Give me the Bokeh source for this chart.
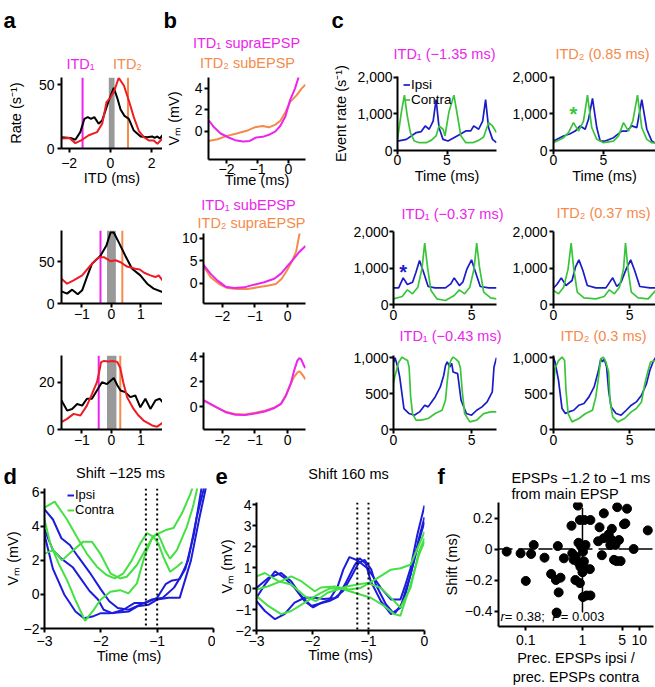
from bokeh.plotting import figure
from bokeh.layouts import row, column
from bokeh.models import (Label, Span, BoxAnnotation, FixedTicker, Legend, LegendItem,
                          CustomJSTickFormatter)
from bokeh.embed import file_html
from bokeh.resources import INLINE

FONT = "Liberation Sans"
MAGENTA = "#EC24EC"
ORANGE = "#F58A4B"
RED = "#EE1D23"
BLACK = "#000000"
GRAY = "#999999"
BLUE = "#1B1BC8"
GREEN = "#3AC43A"
BLUE_D = "#1C1CDC"
GREEN_D = "#44E044"

# ---------------- panel a : ITD tuning (rate vs ITD) ----------------
a1_black_x = [-2.38, -1.94, -1.7, -1.46, -1.26, -1.1, -0.94, -0.78, -0.57, -0.4, -0.24, -0.08, 0.16, 0.32, 0.49, 0.68, 0.89, 1.13, 1.46, 1.78, 2.02, 2.14, 2.27, 2.39, 2.52]
a1_black_y = [8.8, 8.3, 6.8, 12.8, 23.2, 24.5, 23.2, 24.5, 19.3, 22, 29.7, 37.5, 47.4, 40, 30.5, 25.5, 23.2, 14, 9.4, 8.8, 9.4, 8.3, 9.4, 7.8, 10.4]
a1_red_x = [-2.38, -1.99, -1.7, -1.37, -1.05, -0.65, -0.4, -0.19, 0.0, 0.19, 0.4, 0.65, 0.89, 1.13, 1.38, 1.62, 1.86, 2.1, 2.27, 2.52]
a1_red_y = [7.8, 8.3, 4.2, 6.8, 10.4, 12.8, 19.3, 36.2, 39.8, 45.3, 55.2, 49.2, 37.5, 24.5, 13.5, 8.8, 6.3, 6.3, 3.6, 7.8]

a2_black_x = [-1.69, -1.5, -1.33, -1.14, -0.99, -0.83, -0.66, -0.37, -0.17, -0.03, 0.08, 0.25, 0.47, 0.7, 0.98, 1.21, 1.43, 1.73]
a2_black_y = [14.5, 11.8, 16.5, 11, 15.7, 31.5, 47.3, 57, 69, 84.6, 84.6, 72.8, 57, 41.4, 33.5, 23.6, 17.7, 13.7]
a2_red_x = [-1.69, -1.5, -1.28, -0.99, -0.71, -0.43, -0.24, -0.03, 0.14, 0.31, 0.53, 0.81, 0.96, 1.11, 1.32, 1.49, 1.6, 1.73]
a2_red_y = [29.5, 23.6, 27.5, 33.5, 45.3, 55, 55, 50.4, 51.6, 49.2, 44, 41.4, 40.6, 36.6, 33.5, 31.5, 33.5, 27.5]

a3_black_x = [-1.69, -1.5, -1.33, -1.16, -0.99, -0.83, -0.66, -0.49, -0.32, -0.15, 0.08, 0.2, 0.31, 0.47, 0.64, 0.81, 0.98, 1.15, 1.32, 1.49, 1.64, 1.73]
a3_black_y = [12.3, 8, 8.7, 10.8, 10.1, 13, 13, 16.5, 20, 19.2, 21.8, 18.7, 16.5, 15.8, 13.7, 14.4, 9.4, 13, 8.7, 12.3, 13, 11.6]
a3_red_x = [-1.69, -1.5, -1.28, -1.05, -0.83, -0.66, -0.49, -0.42, -0.35, -0.25, -0.1, 0.05, 0.2, 0.3, 0.4, 0.53, 0.75, 0.92, 1.09, 1.38, 1.55, 1.73]
a3_red_y = [3.1, 4.5, 6.6, 5.9, 10.1, 15, 20, 24, 28.5, 29, 28.8, 29, 28.6, 26, 20, 13.7, 8.7, 5.9, 3.8, 1.7, 1.2, 2.8]

a_itd1 = [-1.35, -0.37, -0.43]
a_itd2 = [0.85, 0.37, 0.3]
a_band_left = [-0.08, -0.15, -0.15]
a_band_right = [0.2, 0.15, 0.17]

# ---------------- panel b : average Vm ----------------
b1_mag_x = [-2.58, -2.4, -2.19, -1.93, -1.72, -1.46, -1.25, -1.04, -0.83, -0.63, -0.42, -0.26, -0.1, 0.05, 0.21, 0.33]
b1_mag_y = [1.05, 0.38, -0.19, -0.56, -0.81, -0.94, -0.88, -0.56, -0.5, -0.31, 0.0, 0.53, 1.38, 2.88, 3.97, 5.06]
b1_ora_x = [-2.58, -2.29, -1.98, -1.67, -1.35, -1.09, -0.83, -0.63, -0.42, -0.26, -0.1, 0.05, 0.26, 0.42, 0.55]
b1_ora_y = [-0.88, -0.72, -0.41, -0.19, 0.06, 0.38, 0.5, 0.38, 0.63, 1.0, 1.78, 2.72, 3.34, 3.97, 4.34]

b2_mag_x = [-2.58, -2.36, -2.15, -1.9, -1.64, -1.33, -1.03, -0.72, -0.41, -0.21, -0.05, 0.15, 0.36, 0.55]
b2_mag_y = [4.1, 2.1, 0.6, -0.75, -1.05, -0.9, -0.3, 0.23, 1.0, 2.1, 3.46, 5.1, 7.0, 8.3]
b2_ora_x = [-2.58, -2.36, -2.1, -1.85, -1.54, -1.23, -0.92, -0.62, -0.36, -0.18, -0.02, 0.12, 0.26, 0.39]
b2_ora_y = [3.8, 1.35, -0.15, -1.05, -1.28, -1.28, -0.9, -0.53, -0.15, 1.0, 2.86, 4.7, 7.0, 11.9]

b3_x = [-2.58, -2.2, -1.9, -1.6, -1.3, -1.0, -0.7, -0.4, -0.2, -0.05, 0.1, 0.2, 0.3, 0.36, 0.42, 0.5, 0.55]
b3_mag_y = [0.55, 0.0, -0.42, -0.62, -0.64, -0.52, -0.36, -0.08, 0.25, 0.9, 1.9, 2.9, 3.7, 3.9, 3.8, 3.3, 3.1]
b3_ora_y = [0.5, -0.02, -0.38, -0.57, -0.6, -0.47, -0.3, -0.03, 0.27, 0.95, 1.85, 2.4, 2.75, 2.85, 2.7, 2.4, 2.2]

# ---------------- panel c : event rates ipsi / contra ----------------
c1L_ipsi_x = [0, 0.9, 1.9, 2.4, 2.8, 3.2, 3.6, 3.9, 4.2, 4.6, 5.1, 5.6, 6.2, 6.9, 7.4, 7.7, 8.2, 8.6, 8.9, 9.2, 9.6, 10.0]
c1L_ipsi_y = [258, 304, 490, 517, 671, 580, 802, 1390, 620, 304, 258, 335, 425, 535, 535, 671, 580, 802, 1390, 620, 304, 213]
c1L_con_x = [0, 0.4, 0.7, 0.97, 1.3, 1.7, 2.2, 2.9, 3.4, 3.9, 4.2, 4.6, 4.8, 5.2, 5.7, 6.1, 6.4, 6.9, 7.6, 8.2, 8.7, 9.2, 9.6, 10.0]
c1L_con_y = [304, 1060, 1510, 975, 490, 258, 213, 213, 276, 400, 670, 580, 400, 1060, 1510, 880, 400, 213, 213, 276, 370, 760, 670, 490]

c1R_ipsi_x = [0, 1.0, 1.67, 2.17, 2.67, 3.17, 3.5, 3.9, 4.33, 4.67, 5.17, 6.0, 6.83, 7.33, 7.83, 8.33, 8.83, 9.33, 9.83, 10.2]
c1R_ipsi_y = [258, 394, 458, 530, 671, 580, 852, 1420, 620, 258, 258, 350, 530, 530, 671, 625, 1390, 580, 258, 200]
c1R_con_x = [0, 1.0, 1.5, 2.0, 2.5, 3.0, 3.4, 3.83, 4.33, 5.0, 6.0, 6.5, 7.0, 7.5, 7.93, 8.4, 8.83, 9.33, 9.83, 10.2]
c1R_con_y = [213, 350, 490, 760, 530, 800, 1510, 620, 304, 213, 258, 400, 760, 530, 800, 1510, 620, 304, 213, 200]

c2L_ipsi_x = [0, 0.33, 0.62, 0.89, 1.22, 1.44, 1.67, 1.89, 2.22, 2.67, 3.33, 3.67, 3.89, 4.22, 4.44, 4.71, 5.0, 5.22, 5.56, 6.11, 6.6]
c2L_ipsi_y = [456, 456, 730, 548, 612, 886, 1205, 931, 493, 456, 456, 566, 730, 520, 612, 977, 1223, 931, 493, 456, 456]
c2L_con_x = [0, 0.56, 0.89, 1.22, 1.56, 1.82, 2.0, 2.18, 2.4, 2.78, 3.33, 3.89, 4.22, 4.56, 4.89, 5.16, 5.33, 5.51, 5.78, 6.22, 6.6]
c2L_con_y = [155, 219, 402, 292, 475, 977, 1680, 1022, 383, 155, 110, 246, 402, 292, 475, 977, 1680, 1022, 338, 183, 155]

c2R_ipsi_x = [0, 0.22, 0.51, 0.82, 1.22, 1.44, 1.67, 1.93, 2.22, 2.78, 3.44, 3.89, 4.16, 4.44, 4.78, 5.07, 5.33, 5.67, 6.33, 6.7]
c2R_ipsi_y = [456, 548, 730, 520, 657, 1022, 1223, 931, 520, 456, 456, 730, 493, 612, 977, 1223, 931, 493, 456, 456]
c2R_con_x = [0, 0.33, 0.67, 0.96, 1.16, 1.33, 1.56, 2.0, 2.78, 3.33, 3.67, 4.0, 4.33, 4.6, 4.73, 4.89, 5.11, 5.56, 6.22, 6.7]
c2R_con_y = [383, 292, 475, 977, 1680, 977, 338, 183, 155, 219, 402, 292, 475, 977, 1680, 977, 338, 183, 155, 383]

c3L_ipsi_x = [0, 0.1, 0.27, 0.4, 0.67, 1.0, 1.33, 1.67, 2.0, 2.22, 2.44, 2.67, 3.0, 3.22, 3.33, 3.44, 3.6, 3.73, 3.82, 4.11, 4.33, 4.67, 5.0, 5.33, 5.67, 6.0, 6.33, 6.44, 6.6]
c3L_ipsi_y = [937, 1000, 870, 730, 292, 222, 199, 245, 338, 315, 384, 454, 593, 755, 890, 940, 870, 920, 800, 778, 407, 222, 199, 268, 315, 384, 523, 870, 1000]
c3L_con_x = [0, 0.1, 0.33, 0.55, 0.7, 0.9, 1.0, 1.1, 1.22, 1.44, 1.78, 2.22, 2.67, 3.11, 3.33, 3.45, 3.55, 3.67, 3.82, 4.0, 4.18, 4.29, 4.4, 4.56, 4.89, 5.33, 5.78, 6.22, 6.6]
c3L_con_y = [650, 750, 937, 1008, 985, 960, 870, 454, 222, 130, 130, 153, 222, 268, 407, 685, 870, 960, 1008, 980, 940, 850, 546, 222, 106, 130, 222, 245, 245]

c3R_ipsi_x = [0, 0.1, 0.33, 0.56, 0.78, 1.0, 1.33, 1.67, 2.0, 2.33, 2.67, 2.96, 3.11, 3.22, 3.33, 3.49, 3.62, 3.78, 4.11, 4.44, 4.78, 5.11, 5.44, 5.78, 6.11, 6.33, 6.56, 6.7]
c3R_ipsi_y = [1000, 940, 685, 292, 222, 245, 268, 338, 361, 454, 593, 824, 985, 940, 985, 870, 546, 315, 222, 199, 268, 338, 384, 477, 639, 824, 950, 1000]
c3R_con_x = [0, 0.1, 0.33, 0.56, 0.73, 0.82, 0.96, 1.22, 1.67, 2.11, 2.56, 2.78, 2.96, 3.11, 3.27, 3.44, 3.62, 3.71, 3.89, 4.22, 4.67, 5.11, 5.44, 5.78, 6.0, 6.22, 6.38, 6.7]
c3R_con_y = [600, 850, 960, 1008, 960, 546, 222, 106, 153, 222, 268, 454, 731, 985, 1008, 940, 800, 407, 176, 106, 153, 245, 292, 384, 639, 824, 940, 960]

# ---------------- panel d : shift -125 ms ----------------
d_ipsi = [
    ([-3, -2.85, -2.7, -2.55, -2.4, -2.2, -2.0, -1.85, -1.7, -1.5, -1.3, -1.1, -0.9, -0.7, -0.5, -0.35, -0.2],
     [5.0, 4.4, 3.3, 2.9, 2.2, 1.3, 0.3, -0.4, -0.8, -0.9, -0.6, -0.3, -0.2, 0.4, 1.5, 3.5, 6.5]),
    ([-3, -2.85, -2.7, -2.5, -2.35, -2.2, -2.05, -1.95, -1.8, -1.6, -1.4, -1.2, -1.0, -0.85, -0.75, -0.6, -0.45, -0.3, -0.15],
     [3.8, 2.6, 2.1, 1.6, 0.9, 0.2, -0.3, -0.9, -1.1, -0.9, -0.5, -0.5, -0.2, 0.6, 0.8, 0.9, 2.0, 4.5, 6.5]),
    ([-3, -2.85, -2.65, -2.45, -2.3, -2.15, -2.0, -1.85, -1.65, -1.5, -1.35, -1.15, -1.0, -0.8, -0.6, -0.4, -0.25, -0.12],
     [3.5, 1.5, 0.0, -1.0, -1.4, -1.3, -1.1, -1.1, -1.05, -1.0, -0.7, -0.6, -0.3, -0.2, -0.2, 2.0, 4.5, 6.5]),
]
d_contra = [
    ([-3, -2.82, -2.6, -2.43, -2.25, -2.07, -1.9, -1.75, -1.6, -1.45, -1.3, -1.18, -1.07, -0.98, -0.89, -0.77, -0.65, -0.55],
     [5.1, 5.45, 4.4, 3.4, 2.4, 1.63, 1.14, 0.94, 1.24, 2.0, 3.0, 3.6, 3.4, 3.0, 2.2, 1.33, 1.63, 1.9]),
    ([-3, -2.84, -2.69, -2.49, -2.31, -2.16, -2.01, -1.83, -1.66, -1.54, -1.36, -1.18, -1.07, -0.96, -0.83, -0.71, -0.56, -0.41, -0.35],
     [2.4, 2.6, 2.0, 2.6, 3.1, 3.1, 2.4, 1.24, 0.94, 1.04, 1.73, 2.8, 3.4, 3.6, 3.8, 3.9, 4.76, 5.9, 6.5]),
    ([-3, -2.9, -2.75, -2.6, -2.45, -2.34, -2.28, -2.13, -2.01, -1.83, -1.66, -1.51, -1.36, -1.21, -1.09, -1.0, -0.95, -0.86, -0.77, -0.65, -0.47, -0.36, -0.27],
     [4.4, 3.0, 1.82, 0.84, -0.33, -1.12, -1.55, -0.92, -0.33, 0.16, 0.25, 0.06, 0.65, 2.4, 3.3, 3.6, 3.3, 2.6, 2.1, 2.6, 4.0, 5.2, 6.5]),
]

# ---------------- panel e : shift 160 ms ----------------
e_ipsi = [
    ([-3, -2.85, -2.67, -2.5, -2.32, -2.14, -1.99, -1.84, -1.7, -1.55, -1.45, -1.34, -1.2, -1.02, -0.9, -0.78, -0.6, -0.43, -0.35, -0.25, -0.13, 0],
     [-0.44, 0.19, 0.82, 0.5, 0.03, -0.6, -0.9, -0.67, -0.55, 0.1, 0.9, 1.5, 1.35, 0.97, 0.5, 0.03, -0.52, -0.52, 0.1, 0.97, 2.54, 3.96]),
    ([-3, -2.79, -2.56, -2.38, -2.2, -2.02, -1.85, -1.7, -1.55, -1.4, -1.25, -1.16, -1.05, -0.96, -0.78, -0.6, -0.43, -0.25, -0.1, 0],
     [0.03, 0.5, 0.74, 0.35, -0.36, -0.83, -0.7, -0.6, -0.4, 0.3, 1.1, 1.44, 1.2, 0.35, -0.6, -1.22, -0.91, 0.66, 2.39, 3.4]),
    ([-3, -2.85, -2.67, -2.5, -2.32, -2.14, -1.96, -1.8, -1.6, -1.45, -1.3, -1.18, -1.07, -0.95, -0.87, -0.69, -0.54, -0.37, -0.22, -0.07, 0],
     [-0.6, -1.07, -1.46, -1.22, -0.67, -0.44, -0.44, -0.5, -0.45, -0.1, 0.6, 1.2, 1.37, 0.9, 0.19, -0.75, -1.22, -0.6, 0.97, 2.54, 3.17]),
]
e_contra = [
    ([-3, -2.85, -2.61, -2.38, -2.14, -1.94, -1.73, -1.37, -1.02, -0.78, -0.54, -0.43, -0.25, -0.1, 0],
     [0.58, 0.74, 0.35, 0.19, -0.36, -0.6, -0.2, 0.11, 0.27, 0.03, -0.6, -0.91, 0.03, 1.76, 2.39]),
    ([-3, -2.79, -2.56, -2.38, -2.14, -1.9, -1.7, -1.49, -1.25, -0.96, -0.72, -0.54, -0.43, -0.25, -0.1, 0],
     [-0.36, -0.83, -1.22, -1.07, -0.67, -0.28, 0.0, 0.0, -0.2, -0.44, -0.83, -1.22, -1.3, 0.19, 1.6, 2.23]),
    ([-3, -2.79, -2.56, -2.38, -2.2, -1.96, -1.85, -1.6, -1.35, -1.14, -0.84, -0.6, -0.43, -0.25, -0.1, 0],
     [-0.05, 0.11, 0.35, 0.58, 0.35, -0.13, 0.05, 0.1, -0.05, 0.03, 0.5, 0.9, 0.97, 1.13, 2.07, 2.7]),
]
de_window = [-1.2, -1.0]

# ---------------- panel f : scatter ----------------
f_ratio = [0.046, 0.081, 0.124, 0.138, 0.1, 0.214, 0.28, 0.367, 0.34, 0.41, 0.38, 0.47, 0.35, 0.64, 0.83, 0.9, 1.08, 1.38,
           0.66, 0.76, 0.85, 0.95, 1.02, 1.13, 0.7, 0.86, 1.06, 0.92, 1.13, 1.35, 1.0, 0.75, 0.9, 1.02, 1.18, 1.38,
           2.0, 2.38, 1.89, 2.38, 2.9, 3.3, 4.1, 3.3, 3.8, 4.4, 5.4, 6.1, 5.7, 8.0, 14.2, 2.2, 3.6, 4.0, 4.7, 3.1]
f_shift = [-0.017, -0.028, -0.032, 0.026, -0.206, -0.056, -0.161, 0.019, -0.2, -0.185, -0.28, -0.06, -0.41, 0.15, 0.28, 0.187, 0.187, 0.187,
           -0.028, -0.05, 0.04, 0.015, -0.017, 0.026, -0.07, -0.09, -0.08, -0.115, -0.125, -0.13, -0.15, -0.2, -0.22, -0.31, -0.30, -0.30,
           0.14, 0.23, 0.05, 0.07, 0.094, 0.058, 0.27, 0.13, 0.026, 0.058, 0.16, 0.26, 0.165, 0.0, 0.12, -0.04, -0.07, -0.078, -0.078, 0.026]
f_vline_x = [1, 1]
f_vline_y = [-0.41, 0.265]

JS_FMT = """
let s;
if (Math.abs(tick) >= 1000) { s = Math.round(tick).toLocaleString('en-US'); }
else { s = String(parseFloat(tick.toPrecision(6))); }
return s.replace('-', '\u2212');
"""


def W(p):
    # wrap every plot so that Bokeh does not align frames of neighbouring plots
    return column(p)


def make(ox, oy, w, h, l, r, t, b, xr, yr, xt, yt, xlog=False, xls=1, yls=2,
         xlab=None, ylab=None, xas=0, yas=0):
    p = figure(width=w, height=h, x_range=xr, y_range=yr,
               x_axis_type="log" if xlog else "linear",
               output_backend="svg", toolbar_location=None,
               min_border_left=l, min_border_right=r, min_border_top=t, min_border_bottom=b)
    p.outline_line_color = None
    p.xgrid.visible = False
    p.ygrid.visible = False
    p.xaxis.ticker = FixedTicker(ticks=xt)
    p.yaxis.ticker = FixedTicker(ticks=yt)
    for ax, ls, lab, las in ((p.xaxis[0], xls, xlab, xas), (p.yaxis[0], yls, ylab, yas)):
        ax.formatter = CustomJSTickFormatter(code=JS_FMT)
        ax.axis_line_width = 2
        ax.axis_line_color = BLACK
        ax.major_tick_line_width = 2
        ax.major_tick_line_color = BLACK
        ax.major_tick_out = 4
        ax.major_tick_in = 0
        ax.minor_tick_line_color = None
        ax.major_label_text_font = FONT
        ax.major_label_text_font_size = "14px"
        ax.major_label_text_color = BLACK
        ax.major_label_standoff = ls
        if lab:
            ax.axis_label = lab
            ax.axis_label_text_font = FONT
            ax.axis_label_text_font_size = "14.5px"
            ax.axis_label_text_font_style = "normal"
            ax.axis_label_text_color = BLACK
            ax.axis_label_standoff = las
    g = dict(ox=ox, oy=oy, l=l, t=t, fh=h - t - b)
    return p, g


def strip(ox, oy, w, h):
    p = figure(width=w, height=h, x_range=(ox, ox + w), y_range=(oy + h, oy),
               output_backend="svg", toolbar_location=None, min_border=0,
               x_axis_location=None, y_axis_location=None)
    p.outline_line_color = None
    p.xgrid.visible = False
    p.ygrid.visible = False
    return p


def stext(p, x, y, text, color=BLACK, size="14.5px", align="center", baseline="middle", style="normal"):
    p.add_layout(Label(x=x, y=y, text=text, text_color=color, text_font=FONT, text_font_size=size,
                       text_align=align, text_baseline=baseline, text_font_style=style))


def letter(p, x, y, text):
    stext(p, x, y, text, size="22px", align="left", baseline="alphabetic", style="bold")


def legend(p, g, px_left, py_bottom, items, size="14px", lh=13):
    vx = px_left - g["ox"] - g["l"]
    vy = g["oy"] + g["t"] + g["fh"] - py_bottom
    lg = Legend(items=[LegendItem(label=lab, renderers=[r]) for lab, r in items],
                location=(vx, vy), glyph_width=7, glyph_height=lh, label_height=lh,
                label_standoff=1, spacing=-3, padding=0, margin=0,
                border_line_color=None, background_fill_alpha=0,
                label_text_font=FONT, label_text_font_size=size, label_text_color=BLACK)
    p.add_layout(lg)


# ================= column a =================
sA = strip(0, 0, 162, 70)
letter(sA, 3, 20, "a")
stext(sA, 80, 63, "ITD\u2081", color=MAGENTA)
stext(sA, 127, 63, "ITD\u2082", color=ORANGE)

a_specs = [
    dict(oy=70, h=120, t=7, b=42, xr=(-2.37, 2.52), yr=(0, 55.5), xt=[-2, 0, 2], yt=[0, 50], xls=5,
         xlab="ITD (ms)", ylab="Rate (s\u207b\u00b9)", xas=-1, yas=12,
         bx=a1_black_x, by=a1_black_y, rx=a1_red_x, ry=a1_red_y),
    dict(oy=190, h=136, t=40, b=23, xr=(-1.69, 1.73), yr=(0, 87), xt=[-1, 0, 1], yt=[0, 50], xls=1,
         xlab=None, ylab=None, xas=0, yas=0,
         bx=a2_black_x, by=a2_black_y, rx=a2_red_x, ry=a2_red_y),
    dict(oy=326, h=126, t=29, b=23, xr=(-1.69, 1.73), yr=(0, 31.3), xt=[-1, 0, 1], yt=[0, 20], xls=1,
         xlab=None, ylab=None, xas=0, yas=0,
         bx=a3_black_x, by=a3_black_y, rx=a3_red_x, ry=a3_red_y),
]
colA = [W(sA)]
for i, s in enumerate(a_specs):
    p, g = make(0, s["oy"], 162, s["h"], 61, 0, s["t"], s["b"], s["xr"], s["yr"], s["xt"], s["yt"],
                xls=s["xls"], yls=3, xlab=s["xlab"], ylab=s["ylab"], xas=s["xas"], yas=s["yas"])
    p.add_layout(BoxAnnotation(left=a_band_left[i], right=a_band_right[i], fill_color=GRAY,
                               fill_alpha=1, line_color=None, level="underlay"))
    p.add_layout(Span(location=a_itd1[i], dimension="height", line_color=MAGENTA, line_width=2, level="underlay"))
    p.add_layout(Span(location=a_itd2[i], dimension="height", line_color=ORANGE, line_width=2, level="underlay"))
    p.line(s["bx"], s["by"], line_color=BLACK, line_width=2)
    p.line(s["rx"], s["ry"], line_color=RED, line_width=2)
    colA.append(W(p))

# ================= column b =================
sB1 = strip(162, 0, 168, 70)
letter(sB1, 163, 20, "b")
stext(sB1, 246, 42, "ITD\u2081 supraEPSP", color=MAGENTA)
stext(sB1, 247, 62, "ITD\u2082 subEPSP", color=ORANGE)
sB2 = strip(162, 191, 168, 40)
stext(sB2, 248, 204, "ITD\u2081 subEPSP", color=MAGENTA)
stext(sB2, 251, 222, "ITD\u2082 supraEPSP", color=ORANGE)

XB = (-2.58, 0.55)
pb1, gb1 = make(162, 70, 168, 121, 41, 25, 7, 32, XB, (-2.6, 5.0), [-2, -1, 0], [0, 2, 4],
                xls=0, yls=2, xlab="Time (ms)", ylab="V\u2098 (mV)", xas=-5, yas=10)
pb1.line(b1_ora_x, b1_ora_y, line_color=ORANGE, line_width=2)
pb1.line(b1_mag_x, b1_mag_y, line_color=MAGENTA, line_width=2)
pb2, gb2 = make(162, 231, 168, 96, 41, 25, 2, 24, XB, (-4.5, 11.1), [-2, -1, 0], [0, 5, 10], xls=3, yls=2)
pb2.line(b2_ora_x, b2_ora_y, line_color=ORANGE, line_width=2)
pb2.line(b2_mag_x, b2_mag_y, line_color=MAGENTA, line_width=2)
pb3, gb3 = make(162, 327, 168, 125, 41, 25, 25, 23, XB, (-1.8, 4.35), [-2, -1, 0], [0, 2, 4], xls=1, yls=2)
pb3.line(b3_x, b3_ora_y, line_color=ORANGE, line_width=2)
pb3.line(b3_x, b3_mag_y, line_color=MAGENTA, line_width=2)
colB = [W(sB1), W(pb1), W(sB2), W(pb2), W(pb3)]

# ================= column c =================
sC1 = strip(330, 0, 325, 66)
letter(sC1, 331, 20, "c")
stext(sC1, 444, 53, "ITD\u2081 (\u22121.35 ms)", color=MAGENTA)
stext(sC1, 602, 53, "ITD\u2082 (0.85 ms)", color=ORANGE)
sC2 = strip(330, 190, 325, 34)
stext(sC2, 452, 213, "ITD\u2081 (\u22120.37 ms)", color=MAGENTA)
stext(sC2, 603, 212, "ITD\u2082 (0.37 ms)", color=ORANGE)
sC3 = strip(330, 326, 325, 18)
stext(sC3, 450, 335, "ITD\u2081 (\u22120.43 ms)", color=MAGENTA)
stext(sC3, 603, 335, "ITD\u2082 (0.3 ms)", color=ORANGE)

c_rows = [
    dict(oy=66, h=124, t=10, b=40, yr=(0, 2020), yt=[0, 1000, 2000], xls=0,
         xrL=(0, 10.0), xrR=(0, 10.2), xlab="Time (ms)",
         L=(c1L_ipsi_x, c1L_ipsi_y, c1L_con_x, c1L_con_y), R=(c1R_ipsi_x, c1R_ipsi_y, c1R_con_x, c1R_con_y)),
    dict(oy=224, h=102, t=7, b=22, yr=(0, 2000), yt=[0, 1000, 2000], xls=1,
         xrL=(0, 6.6), xrR=(0, 6.7), xlab=None,
         L=(c2L_ipsi_x, c2L_ipsi_y, c2L_con_x, c2L_con_y), R=(c2R_ipsi_x, c2R_ipsi_y, c2R_con_x, c2R_con_y)),
    dict(oy=344, h=108, t=11, b=23, yr=(0, 1030), yt=[0, 500, 1000], xls=1,
         xrL=(0, 6.6), xrR=(0, 6.7), xlab=None,
         L=(c3L_ipsi_x, c3L_ipsi_y, c3L_con_x, c3L_con_y), R=(c3R_ipsi_x, c3R_ipsi_y, c3R_con_x, c3R_con_y)),
]
c_figs = []
for k, s in enumerate(c_rows):
    pL, gL = make(330, s["oy"], 170, s["h"], 63, 4, s["t"], s["b"], s["xrL"], s["yr"], [0, 5], s["yt"],
                  xls=s["xls"], yls=1, xlab=s["xlab"], ylab="Event rate (s\u207b\u00b9)" if k == 0 else None,
                  xas=0, yas=5)
    pR, gR = make(500, s["oy"], 155, s["h"], 53, 0, s["t"], s["b"], s["xrR"], s["yr"], [0, 5], s["yt"],
                  xls=s["xls"], yls=2, xlab=s["xlab"], ylab=None, xas=0)
    lines = {}
    for p, dat, side in ((pL, s["L"], "L"), (pR, s["R"], "R")):
        ri = p.line(dat[0], dat[1], line_color=BLUE, line_width=1.7)
        rc = p.line(dat[2], dat[3], line_color=GREEN, line_width=1.7)
        lines[side] = (ri, rc)
    c_figs.append((pL, gL, pR, gR, lines))

pc1L, gc1L, pc1R, gc1R, l1 = c_figs[0]
legend(pc1L, gc1L, 399, 107, [("Ipsi", l1["L"][0]), ("Contra", l1["L"][1])], size="13.5px")
pc1R.add_layout(Label(x=2.0, y=1000, text="*", text_color=GREEN, text_font=FONT, text_font_size="20px",
                      text_align="center", text_baseline="middle", text_font_style="bold"))
pc2L = c_figs[1][0]
pc2L.add_layout(Label(x=0.62, y=900, text="*", text_color=BLUE, text_font=FONT, text_font_size="20px",
                      text_align="center", text_baseline="middle", text_font_style="bold"))

colC = [W(sC1)]
for k, (pL, gL, pR, gR, _) in enumerate(c_figs):
    if k == 1:
        colC.append(W(sC2))
    if k == 2:
        colC.append(W(sC3))
    colC.append(row(W(pL), W(pR)))

top = row(column(*colA), column(*colB), column(*colC))

# ================= panel d =================
sD = strip(0, 452, 215, 32)
letter(sD, 3, 476, "d")
stext(sD, 120, 472, "Shift \u2212125 ms")
pd, gd = make(0, 484, 215, 203, 44, 2, 4, 59, (-3, 0), (-2, 6.22), [-3, -2, -1, 0], [-2, 0, 2, 4, 6],
              xls=3, yls=1, xlab="Time (ms)", ylab="V\u2098 (mV)", xas=-1, yas=0)
rd_i = [pd.line(x, y, line_color=BLUE_D, line_width=2) for x, y in d_ipsi]
rd_c = [pd.line(x, y, line_color=GREEN_D, line_width=2) for x, y in d_contra]
for loc in de_window:
    pd.add_layout(Span(location=loc, dimension="height", line_color=BLACK, line_width=2, line_dash="2 3"))
legend(pd, gd, 67, 517, [("Ipsi", rd_i[0]), ("Contra", rd_c[0])], size="13px", lh=12)

# ================= panel e =================
sE = strip(215, 452, 215, 44)
letter(sE, 215, 476, "e")
stext(sE, 348, 473, "Shift 160 ms")
pe, ge = make(215, 496, 215, 191, 40, 6, 6, 57, (-3, 0), (-2, 4.1), [-3, -2, -1, 0], [-2, -1, 0, 1, 2, 3, 4],
              xls=1, yls=1, xlab="Time (ms)", ylab="V\u2098 (mV)", xas=-2, yas=-2)
for x, y in e_ipsi:
    pe.line(x, y, line_color=BLUE_D, line_width=2)
for x, y in e_contra:
    pe.line(x, y, line_color=GREEN_D, line_width=2)
for loc in de_window:
    pe.add_layout(Span(location=loc, dimension="height", line_color=BLACK, line_width=2, line_dash="2 3"))

# ================= panel f =================
sF = strip(430, 452, 225, 49)
letter(sF, 437, 476, "f")
stext(sF, 511, 477, "EPSPs \u22121.2 to \u22121 ms", align="left")
stext(sF, 511, 493, "from main EPSP", align="left")
pf, gf = make(430, 501, 225, 186, 68, 2, 1, 60, (0.033, 17.9), (-0.5, 0.3), [0.1, 1, 5, 10], [-0.4, -0.2, 0, 0.2],
              xlog=True, xls=4, yls=2, xlab="Prec. EPSPs ipsi /\nprec. EPSPs contra", ylab="Shift (ms)", xas=2, yas=2)
pf.add_layout(Span(location=0, dimension="width", line_color=BLACK, line_width=1.5, line_dash="14 6", level="underlay"))
pf.line(f_vline_x, f_vline_y, line_color=BLACK, line_width=1.5)
pf.scatter(f_ratio, f_shift, size=9, fill_color=BLACK, line_color=BLACK)
# "r = 0.38; P = 0.003" with italic r and P
for sx, txt, st in ((2, "r", "italic"), (6.3, " = 0.38; ", "normal"), (53.6, "P", "italic"), (62.3, " = 0.003", "normal")):
    pf.add_layout(Label(x=sx, y=3, x_units="screen", y_units="screen", text=txt,
                        text_color=BLACK, text_font=FONT, text_font_size="13px", text_font_style=st,
                        text_align="left", text_baseline="bottom"))

bottom = row(column(W(sD), W(pd)), column(W(sE), W(pe)), column(W(sF), W(pf)))
layout = column(top, bottom)

open("out.html", "w").write(file_html(layout, INLINE, title="figure"))
